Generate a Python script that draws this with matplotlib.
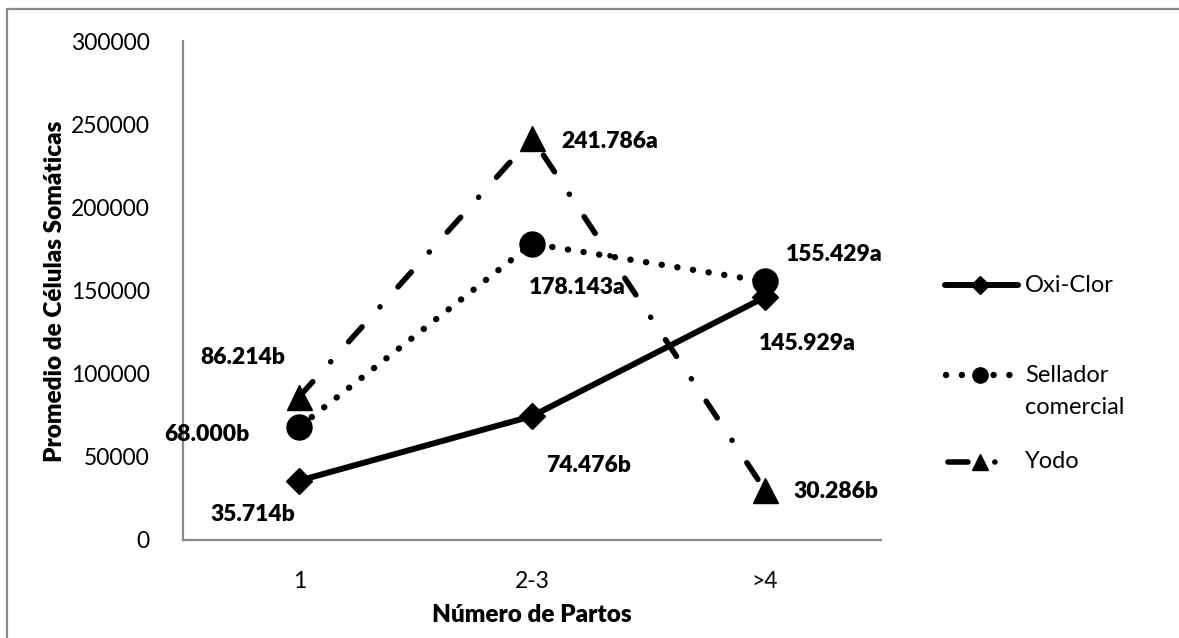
import matplotlib
matplotlib.use("Agg")
import matplotlib.pyplot as plt
from matplotlib.lines import Line2D
from matplotlib.patches import Rectangle

plt.rcParams['font.family'] = ['Lato', 'DejaVu Sans']
plt.rcParams['lines.scale_dashes'] = False

# Data
categories = ["1", "2-3", ">4"]
oxi_clor = [35714, 74476, 145929]
sellador = [68000, 178143, 155429]
yodo = [86214, 241786, 30286]
oxi_labels = ["35.714b", "74.476b", "145.929a"]
sellador_labels = ["68.000b", "178.143a", "155.429a"]
yodo_labels = ["86.214b", "241.786a", "30.286b"]
yticks = [0, 50000, 100000, 150000, 200000, 250000, 300000]

W, H = 1179, 638
fig = plt.figure(figsize=(W / 100, H / 100), dpi=100)


def fx(px):
    return px / W


def fy(py):
    return 1 - py / H


# outer chart frame
fig.add_artist(Rectangle((fx(7), fy(H + 20)), 2, fy(9) - fy(H + 20),
                         transform=fig.transFigure, fill=False,
                         edgecolor="#8a8a8a", linewidth=1.6))

ax = fig.add_axes([fx(183), fy(540), fx(881) - fx(183), fy(41) - fy(540)])
x = range(len(categories))

style_solid = dict(color="black", linewidth=4.3, solid_capstyle="round",
                   solid_joinstyle="round")
style_dot = dict(color="black", linewidth=4.6, linestyle=(0, (0.1, 11.3)),
                 dash_capstyle="round")
style_dashdot = dict(color="black", linewidth=4.0,
                     linestyle=(0, (14.4, 19.3, 0.1, 19.3)),
                     dash_capstyle="round")

ax.plot(x, oxi_clor, marker="D", markersize=13, markerfacecolor="black",
        markeredgecolor="black", zorder=3, **style_solid)
ax.plot(x, sellador, marker="o", markersize=18, markerfacecolor="black",
        markeredgecolor="black", zorder=4, **style_dot)
ax.plot(x, yodo, marker="^", markersize=18, markerfacecolor="black",
        markeredgecolor="black", zorder=5, **style_dashdot)

ax.set_xlim(-0.5, 2.5)
ax.set_ylim(0, 300000)
ax.set_yticks(yticks)
ax.set_yticklabels([str(v) for v in yticks])
ax.set_xticks(list(x))
ax.set_xticklabels(categories)
ax.tick_params(axis="both", length=0, labelsize=16.5, colors="black")
ax.tick_params(axis="y", pad=24)
ax.tick_params(axis="x", pad=22)
for side in ("top", "right"):
    ax.spines[side].set_visible(False)
for side in ("left", "bottom"):
    ax.spines[side].set_color("#8a8a8a")
    ax.spines[side].set_linewidth(1.6)

# value labels next to each point
offsets_oxi = [(-47, -34), (57, -49), (43, -46)]
offsets_sel = [(-92, -8), (45, -44), (70, 27)]
offsets_yodo = [(-57, 39), (78, -4), (71, -2)]
for vals, labs, offs in ((oxi_clor, oxi_labels, offsets_oxi),
                         (sellador, sellador_labels, offsets_sel),
                         (yodo, yodo_labels, offsets_yodo)):
    for i, (v, lab, off) in enumerate(zip(vals, labs, offs)):
        ax.annotate(lab, (i, v), xytext=off, textcoords="offset pixels",
                    ha="center", va="center", fontsize=16.5,
                    fontweight="heavy", zorder=6)

fig.text(fx(532), fy(615), "Número de Partos", ha="center", va="center",
         fontsize=17.5, fontweight="heavy")
fig.text(fx(55), fy(291), "Promedio de Células Somáticas", ha="center",
         va="center", rotation=90, fontsize=17.5, fontweight="heavy")

# legend
legend_rows = [285, 375, 462]
legend_styles = [(style_solid, "D", 9, (945, 1018)),
                 (style_dot, "o", 11, (946, 1012)),
                 (style_dashdot, "^", 12, (947.5, 1000))]
for yrow, (st, mk, ms, (x0, x1)) in zip(legend_rows, legend_styles):
    fig.add_artist(Line2D([fx(x0), fx(x1)], [fy(yrow), fy(yrow)],
                          transform=fig.transFigure, **st))
    fig.add_artist(Line2D([fx(980)], [fy(yrow)], transform=fig.transFigure,
                          marker=mk, markersize=ms, color="black",
                          linestyle="none"))

fig.text(fx(1025), fy(285), "Oxi-Clor", ha="left", va="center", fontsize=17)
fig.text(fx(1025), fy(375), "Sellador", ha="left", va="center", fontsize=17)
fig.text(fx(1025), fy(407), "comercial", ha="left", va="center", fontsize=17)
fig.text(fx(1025), fy(462), "Yodo", ha="left", va="center", fontsize=17)

fig.savefig("out.png", dpi=100)
